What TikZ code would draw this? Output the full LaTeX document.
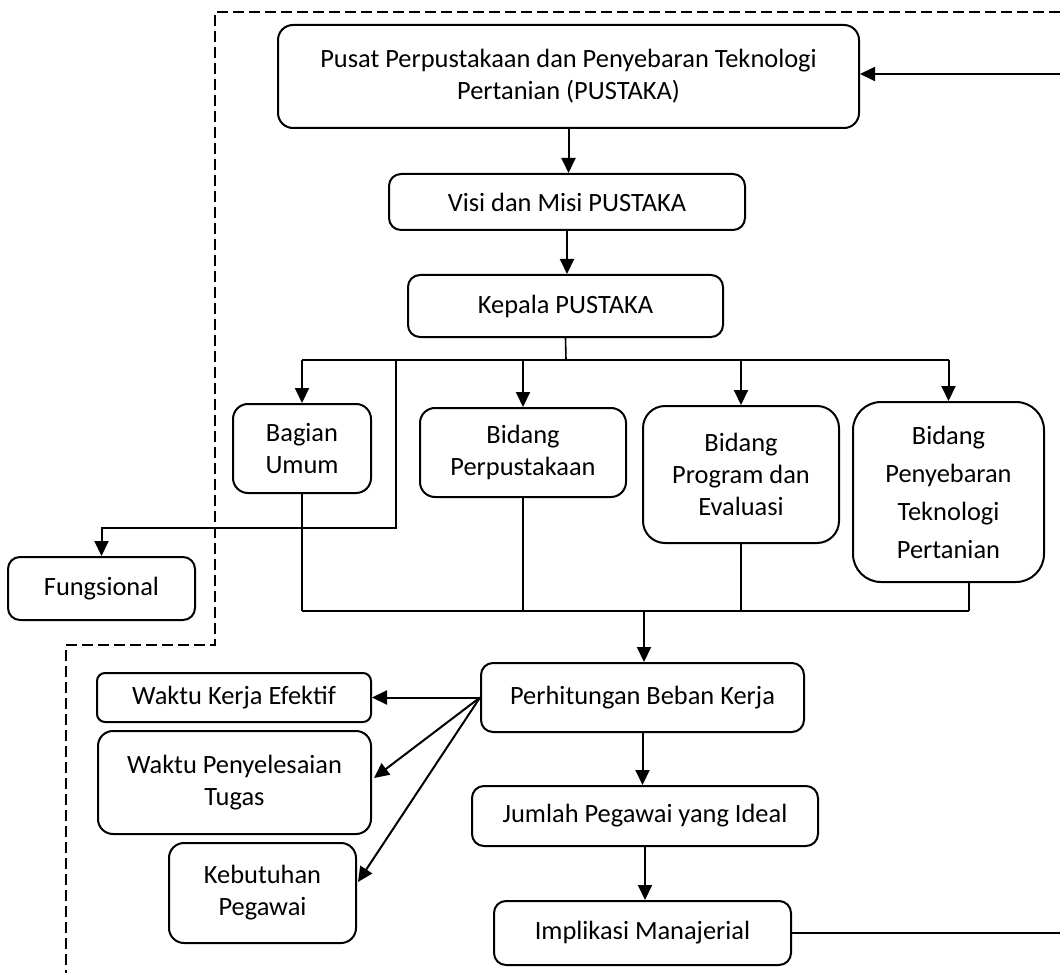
\documentclass[tikz,border=0pt]{standalone}
\usepackage{fontspec}
\setmainfont{Carlito}
\usetikzlibrary{arrows.meta}
\usetikzlibrary{calc}

\tikzset{
  kotak/.style={draw, line width=1pt, rounded corners=6pt, align=center, inner sep=2pt, font=\fontsize{13.2}{16}\selectfont},
  panah/.style={-{Triangle[length=7.5pt,width=7pt]}, line width=1pt},
  garis/.style={line width=0.8pt},
  batas/.style={line width=0.8pt, dash pattern=on 5.5pt off 2.5pt}
}

\begin{document}
\begin{tikzpicture}[x=0.5pt, y=-0.5pt]
        \useasboundingbox (0,0) rectangle (1060,973);
        \node[kotak, rounded corners=7.5pt, minimum width=290.5pt, minimum height=51.5pt] (pusat) at (568.5,76.5) {Pusat Perpustakaan dan Penyebaran Teknologi\\Pertanian (PUSTAKA)};
        \node[kotak, minimum width=178pt, minimum height=28pt] (visi) at (567,202) {Visi dan Misi PUSTAKA};
        \node[kotak, minimum width=157.5pt, minimum height=31pt] (kepala) at (565.5,306) {Kepala PUSTAKA};
        \node[kotak, rounded corners=7.5pt, minimum width=69pt, minimum height=44.5pt] (umum) at (302,448.5) {Bagian\\Umum};
        \node[kotak, rounded corners=7.5pt, minimum width=103pt, minimum height=44.5pt] (perpus) at (523,452.5) {Bidang\\Perpustakaan};
        \node[kotak, rounded corners=11pt, minimum width=98pt, minimum height=68.5pt] (program) at (741,474.5) {Bidang\\Program dan\\Evaluasi};
        \node[kotak, rounded corners=14pt, minimum width=95.5pt, minimum height=90pt, font=\fontsize{13.2}{19}\selectfont] (sebar) at (948.5,492) {Bidang\\Penyebaran\\Teknologi\\Pertanian};
        \node[kotak, minimum width=93.5pt, minimum height=31.5pt] (fungsional) at (101.5,588.5) {Fungsional};
        \node[kotak, minimum width=161.5pt, minimum height=34.5pt] (hitung) at (642.5,697.5) {Perhitungan Beban Kerja};
        \node[kotak, rounded corners=4pt, minimum width=137pt, minimum height=24.5pt] (efektif) at (234,697.5) {Waktu Kerja Efektif};
        \node[kotak, rounded corners=7.5pt, minimum width=136.5pt, minimum height=51.5pt] (tugas) at (234.5,782.5) {Waktu Penyelesaian\\Tugas};
        \node[kotak, rounded corners=7.5pt, minimum width=93.5pt, minimum height=50pt] (butuh) at (262.5,893) {Kebutuhan\\Pegawai};
        \node[kotak, minimum width=173pt, minimum height=30pt] (ideal) at (645,816) {Jumlah Pegawai yang Ideal};
        \node[kotak, minimum width=148.5pt, minimum height=32pt] (implikasi) at (642.5,933) {Implikasi Manajerial};
        \coordinate (cabang) at (566,360);
        \coordinate (fung) at (396,360);
        \coordinate (belok) at (396,528);
        \coordinate (gabung) at (644,611);
        \coordinate (sebarbawah) at ($(sebar.south)+(20.5,0)$);
        \coordinate (ujungatas) at (1060,74);
        \coordinate (ujungbawah) at (1060,931);
        \draw[batas] (1060,12) -- (215,12) -- (215,645) -- (66,645) -- (66,973);
        \draw[panah] (ujungatas) -- (ujungatas -| pusat.east);
        \draw[panah] (pusat.south) -- (pusat.south |- visi.north);
        \draw[panah] (visi.south) -- (visi.south |- kepala.north);
        \draw[garis] (kepala.south) -- (cabang);
        \draw[garis] (umum.north |- cabang) -- (sebar.north |- cabang);
        \foreach \n in {umum,perpus,program,sebar}
            \draw[panah] (\n.north |- cabang) -- (\n.north);
        \draw[panah] (fung) -- (belok) -| (fungsional.north);
        \foreach \n in {umum,perpus,program}
            \draw[garis] (\n.south) -- (\n.south |- gabung);
        \draw[garis] (sebarbawah) -- (sebarbawah |- gabung);
        \draw[garis] (umum.south |- gabung) -- (sebarbawah |- gabung);
        \draw[panah] (gabung) -- (gabung |- hitung.north);
        \draw[panah] (hitung.west) -- (efektif.east);
        \draw[panah] (hitung.west) -- ($(tugas.east)+(2,-4.5)$);
        \draw[panah] (hitung.west) -- ($(butuh.east)+(1,-11)$);
        \draw[panah] (hitung.south) -- (hitung.south |- ideal.north);
        \draw[panah] (ideal.south) -- (ideal.south |- implikasi.north);
        \draw[line width=1pt] (implikasi.east) -- (implikasi.east -| ujungbawah);
    \end{tikzpicture}
\end{document}
